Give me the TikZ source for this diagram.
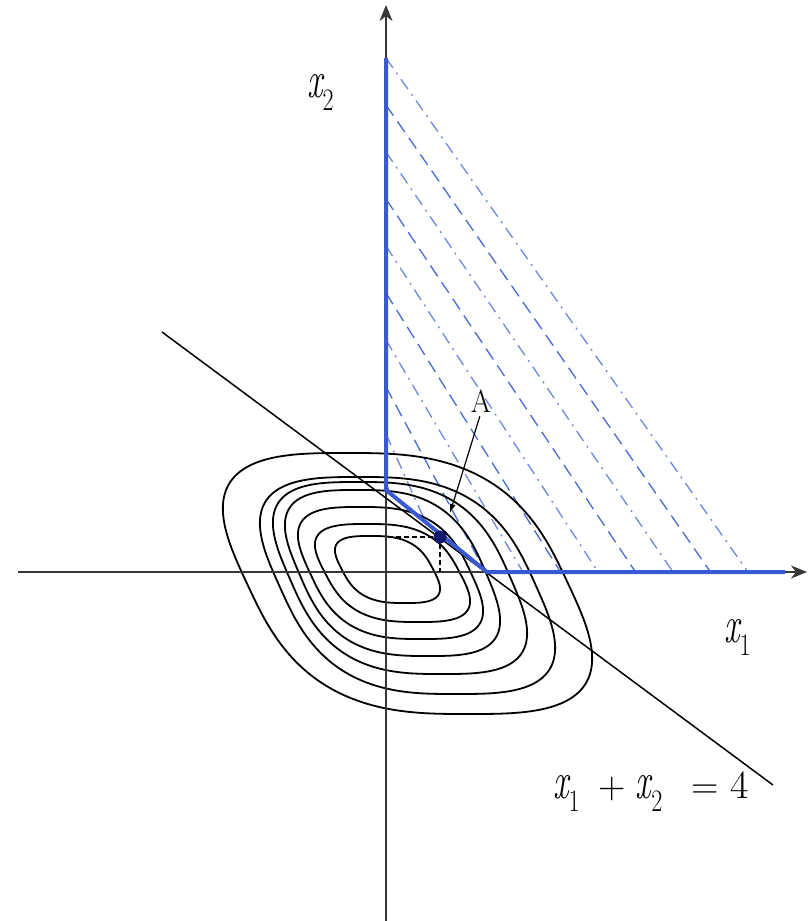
\documentclass[tikz,border=0pt]{standalone}
\usetikzlibrary{arrows.meta}
\usepackage{graphicx}
\definecolor{bdry}{RGB}{55,90,210}
\definecolor{hatch}{RGB}{70,105,215}
\definecolor{hatchlt}{RGB}{110,135,225}
\definecolor{axisgray}{RGB}{55,55,55}
\definecolor{dotblue}{RGB}{15,25,110}
\newcommand\vx{\scalebox{0.95}[1.45]{\itshape x}}
\newcommand\vsub[1]{\raisebox{-13pt}{\scalebox{1}[1.3]{\fontsize{24}{24}\selectfont #1}}}
\begin{document}
\begin{tikzpicture}[x=1pt,y=-1pt,
  axis/.style={draw=axisgray, line width=2pt, -{Stealth[length=16pt,width=13pt,inset=5pt]}},
  bound/.style={draw=bdry, line width=4pt, line join=round},
  hatchdash/.style={draw=hatch, line width=1.3pt, dash pattern=on 13pt off 7pt},
  hatchdot/.style={draw=hatchlt, line width=1.3pt, dash pattern=on 12pt off 6pt on 2pt off 6pt},
  contour/.style={draw=black, line width=1.8pt},
  cline/.style={draw=black, line width=1.5pt},
  guide/.style={draw=black, line width=1.2pt, dash pattern=on 5pt off 3pt},
  lbl/.style={inner sep=0pt, anchor=base west, font=\fontsize{36}{40}\selectfont},
  declare function={su(\t)=((cos(\t)>=0)?1:-1)*pow(abs(cos(\t)),0.6667);
                    sv(\t)=((sin(\t)>=0)?1:-1)*pow(abs(sin(\t)),0.6667);}
]
\useasboundingbox (0,0) rectangle (808,921);

% key points
\coordinate (O) at (386,572);
\coordinate (ytop) at (386,5);
\coordinate (ybot) at (386,921);
\coordinate (xl) at (18,572);
\coordinate (xr) at (807,572);
\coordinate (b1) at (386,58);
\coordinate (b2) at (386,490);
\coordinate (b3) at (487,572);
\coordinate (b4) at (785,572);
\coordinate (c1) at (162,332);
\coordinate (c2) at (773,785);
\coordinate (Ah) at (386,537);
\coordinate (Av) at (440,572);
\coordinate (Atip) at (450,513);

% hatching of the feasible region
\begin{scope}
  \clip (386,40) -- (386,490) -- (487,572) -- (800,572) -- (800,40) -- cycle;
  \foreach \i in {0,...,9}{
    \pgfmathsetmacro\ys{58+47*\i}
    \pgfmathsetmacro\xe{748-37.5*\i}
    \pgfmathtruncatemacro\hpar{mod(\i,2)}
    \ifnum\hpar=0
      \draw[hatchdot] (386,\ys) -- (\xe,572);
    \else
      \draw[hatchdash] (386,\ys) -- (\xe,572);
    \fi
  }
\end{scope}

% level curves
\foreach \cx/\cy/\W/\b in {387.5/569.5/52.5/33.5, 392.5/573/77.5/49, 390.5/573/92.5/66,
    392.5/573/107.5/83, 400/578/127/96, 407.5/585.5/147.5/108.5, 407.5/583.5/184.5/130.5}{
  \draw[contour] plot[domain=0.75:360.75, samples=241]
    ({\cx+0.87*\W*su(\x)+0.33*\W*sv(\x)},{\cy+\b*sv(\x)}) -- cycle;
}

% axes
\draw[axis] (ybot) -- (ytop);
\draw[axis] (xl) -- (xr);

% constraint line
\draw[cline] (c1) -- (c2);

% boundary of feasible region
\draw[bound] (b1) -- (b2) -- (b3) -- (b4);

% optimum A
\node[circle, fill=dotblue, inner sep=0pt, minimum size=13pt] (A) at (440,537) {};
\draw[guide] (A) -- (Ah);
\draw[guide] (A) -- (Av);
\node[inner sep=0pt, font=\fontsize{29}{29}\selectfont] (lblA) at (481,401) {\scalebox{1}[1.1]{A}};
\draw[line width=1.2pt, -{Latex[length=9pt,width=6pt]}, shorten <=4pt] (lblA.south) -- (Atip);

% labels
\node[lbl] (lblx2) at (307,97) {\vx\vsub{2}};
\node[lbl] (lblx1) at (724,642) {\vx\vsub{1}};
\node[lbl] (lbleq) at (553,798) {\vx\vsub{1}\hspace{19pt}{\fontsize{38}{38}\selectfont +}\hspace{10pt}\vx\vsub{2}\hspace{29pt}{\fontsize{38}{38}\selectfont =}\hspace{12pt}{\fontsize{40}{40}\selectfont 4}};
\end{tikzpicture}
\end{document}
